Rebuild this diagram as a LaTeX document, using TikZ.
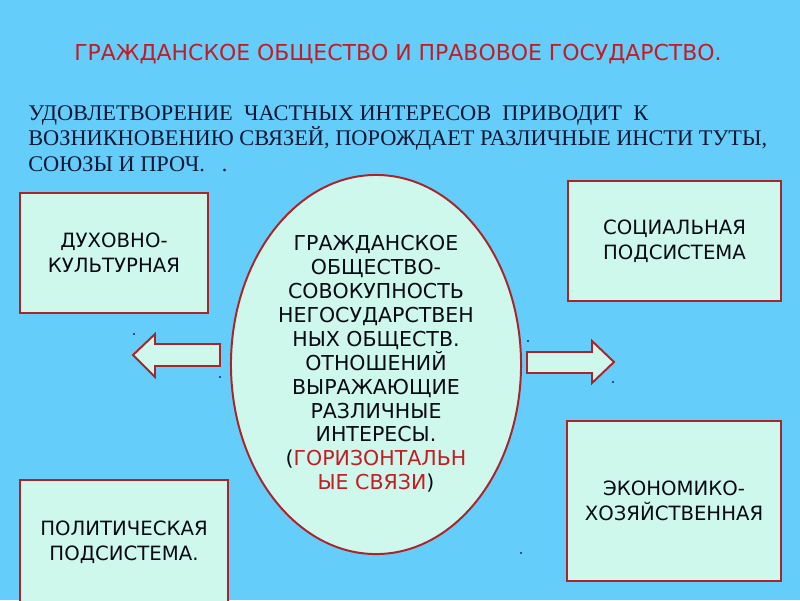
\documentclass[tikz,border=0pt]{standalone}
\usepackage{fontspec}
\setmainfont{Liberation Serif}
\newfontfamily\boxfont{DejaVu Sans}
\usepackage{tikz}
\usetikzlibrary{shapes.geometric}

\definecolor{skyblue}{RGB}{100,205,250}
\definecolor{mint}{RGB}{206,248,236}
\definecolor{framered}{RGB}{170,36,42}
\definecolor{titlered}{RGB}{196,28,36}
\definecolor{inkblack}{RGB}{8,10,20}
\definecolor{inknavy}{RGB}{10,22,52}
\definecolor{dotblue}{RGB}{30,40,120}

\begin{document}
\begin{tikzpicture}[x=0.025cm,y=-0.025cm,
    panel/.style={draw=framered,fill=mint,line width=1.4pt,inner sep=0pt,
      align=center,text=inkblack,font=\boxfont\fontsize{14}{17.8}\selectfont},
    intro/.style={anchor=base west,inner sep=0pt,text=inknavy,
      font=\fontsize{15.9}{18}\selectfont}]
\fill[skyblue] (0,0) rectangle (800,600);
\useasboundingbox (0,0) rectangle (800,600);
    \node[anchor=base,inner sep=0pt,text=titlered,font=\boxfont\fontsize{15.6}{18}\selectfont] (title) at (398,60)
      {ГРАЖДАНСКОЕ ОБЩЕСТВО И ПРАВОВОЕ ГОСУДАРСТВО.};
    \node[intro] (introa) at (28,120) {УДОВЛЕТВОРЕНИЕ\ \ ЧАСТНЫХ ИНТЕРЕСОВ\ \ ПРИВОДИТ\ \ К};
    \node[intro] (introb) at (28,145.5) {ВОЗНИКНОВЕНИЮ СВЯЗЕЙ, ПОРОЖДАЕТ РАЗЛИЧНЫЕ ИНСТИ ТУТЫ,};
    \node[intro] (introc) at (28,171) {СОЮЗЫ И ПРОЧ.\hspace{12pt}.};
    % subsystems
    \node[panel,minimum width=4.7cm,minimum height=3cm] (spirit) at (114,253) {ДУХОВНО-\\КУЛЬТУРНАЯ};
    \node[panel,minimum width=5.325cm,minimum height=3cm] (social) at (674.5,241) {СОЦИАЛЬНАЯ\\ПОДСИСТЕМА};
    \node[panel,minimum width=5.2cm,minimum height=3.1cm] (politic) at (124,542) {ПОЛИТИЧЕСКАЯ\\ПОДСИСТЕМА.};
    \node[panel,minimum width=5.35cm,minimum height=4cm] (economy) at (674,501) {ЭКОНОМИКО-\\ХОЗЯЙСТВЕННАЯ};
    % centre
    \node[ellipse,draw=framered,fill=mint,line width=1.4pt,inner sep=0pt,
      minimum width=7.25cm,minimum height=9.475cm] (society) at (376,364.5) {};
    \node[align=center,text=inkblack,font=\boxfont\fontsize{14.6}{17}\selectfont] (societytext) at (376,364)
      {ГРАЖДАНСКОЕ\\ОБЩЕСТВО-\\СОВОКУПНОСТЬ\\НЕГОСУДАРСТВЕН\\НЫХ ОБЩЕСТВ.\\ОТНОШЕНИЙ\\ВЫРАЖАЮЩИЕ\\РАЗЛИЧНЫЕ\\ИНТЕРЕСЫ.\\
      ({\color{titlered}ГОРИЗОНТАЛЬН}\\{\color{titlered}ЫЕ СВЯЗИ})};
    % arrows
    \draw[framered,fill=mint,line width=1.4pt,line join=miter] (133,355) -- (155,334) -- (155,344) -- (220,344)
      -- (220,366) -- (155,366) -- (155,377) -- cycle;
    \draw[framered,fill=mint,line width=1.4pt,line join=miter] (614,362) -- (592,341) -- (592,352) -- (527,352)
      -- (527,373) -- (592,373) -- (592,383) -- cycle;
    \foreach \p in {(134,334),(220,377),(528,341),(613,382),(521,553)}
      \fill[dotblue] \p circle[radius=0.8pt];
\end{tikzpicture}
\end{document}
